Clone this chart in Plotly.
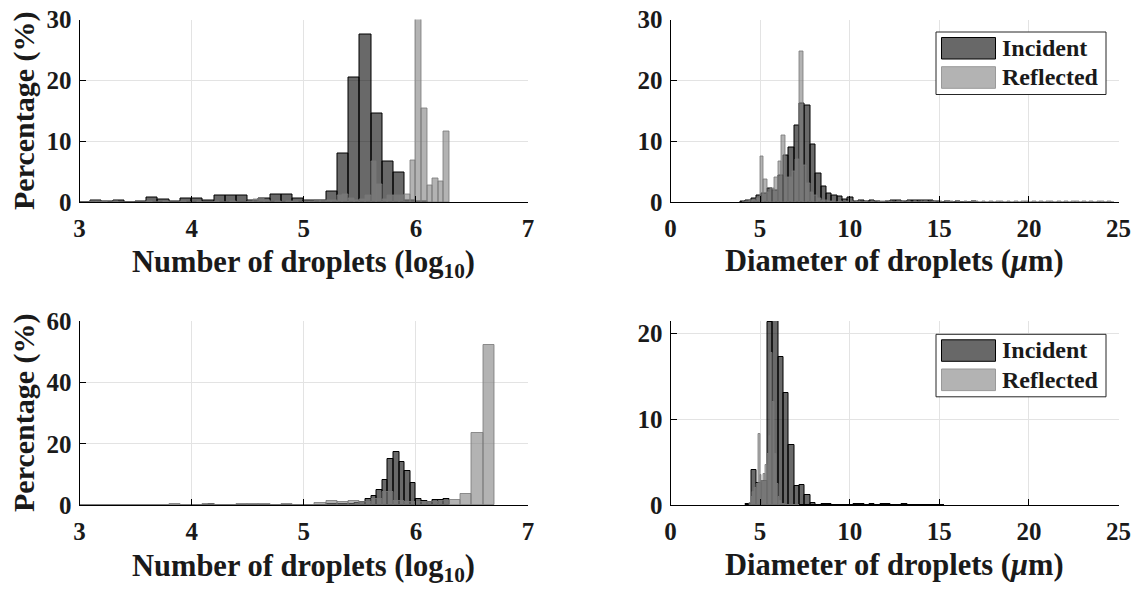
import plotly.graph_objects as go
import numpy as np

# ---------------- data ----------------
# Panel (a): number of droplets (log10), case 1
inc1_start, inc1_bin = 3.0, 0.1
inc1_vals = [0.0, 0.2, 0.05, 0.2, 0.0, 0.1, 0.8, 0.35, 0.15, 0.6, 0.5, 0.3, 1.15, 1.0, 1.0,
             0.3, 0.5, 1.3, 1.25, 0.5, 0.2, 0.3, 1.8, 8.0, 20.5, 27.5, 14.5, 6.6, 4.9, 0.3, 0.1]
ref1_start, ref1_bin = 3.0, 0.05
ref1_vals = [0, 0, 0.1, 0.1, 0.1, 0, 0.1, 0, 0, 0, 0, 0, 0.1, 0, 0, 0.1, 0, 0, 0.1, 0,
             0, 0.1, 0, 0, 0.1, 0, 0, 0.1, 0, 0, 0.1, 0.4, 0.5, 0.2, 0, 0.1, 0, 0.1, 0.1, 0,
             0.1, 0.1, 0.2, 0.3, 0.3, 0.2, 1.0, 1.3, 0.5, 0.3, 0.4, 1.15, 6.6, 2.9, 0.4, 1.0,
             1.0, 1.0, 1.3, 6.8, 30.2, 15.4, 2.7, 3.9, 3.4, 11.6]

# Panel (b): diameter of droplets (um), case 1
inc2_start, inc2_bin = 3.9, 0.3
inc2_vals = [0.1, 0.2, 0.6, 1.0, 1.4, 2.2, 1.9, 4.3, 7.7, 8.9, 12.6, 16.2, 15.8, 9.5, 4.7, 2.5,
             1.4, 1.1, 0.9, 0.35, 0.8, 0.1, 0.2, 0.1, 0.2, 0.1, 0.0, 0.15, 0.2, 0.2, 0.1, 0.2,
             0.2, 0.25, 0.3, 0.2, 0.1, 0.0, 0.05, 0.0, 0.05, 0.0, 0.0, 0.05]
ref2_start, ref2_bin = 4.0, 0.2
ref2_vals = [0.0, 0.1, 0.2, 0.3, 0.6, 7.4, 3.7, 1.5, 2.2, 4.0, 6.7, 10.9, 4.0, 4.0, 5.0, 7.0,
             24.8, 6.0, 3.0, 1.5, 1.0, 0.5, 0.3, 0.2, 0.1, 0.1, 0.0, 0.1, 0.0, 0.05, 0.1, 0.0,
             0.05, 0.0, 0.1, 0.0, 0.05, 0.0, 0.1, 0.05, 0.0, 0.1, 0.0, 0.05, 0.1, 0.0, 0.05,
             0.0, 0.1, 0.0, 0.05, 0.1, 0.0, 0.05, 0.0, 0.1, 0.0, 0.05, 0.1, 0.0, 0.05, 0.0,
             0.1, 0.0, 0.05, 0.1, 0.0, 0.05, 0.0, 0.1, 0.0, 0.05, 0.1, 0.0, 0.05, 0.0, 0.1,
             0.0, 0.05, 0.1, 0.0, 0.05, 0.0, 0.1, 0.0, 0.05, 0.1, 0.0, 0.05, 0.0, 0.1, 0.0,
             0.05, 0.1, 0.0, 0.05, 0.0, 0.1, 0.0, 0.05, 0.1, 0.0, 0.05, 0.0]

# Panel (c): number of droplets (log10), case 2
inc3_start, inc3_bin = 4.0, 0.05
inc3_vals = [0, 0, 0.1, 0.3, 0.1, 0, 0, 0, 0.1, 0, 0, 0, 0, 0.1, 0, 0, 0.1, 0, 0, 0.1,
             0.1, 0, 0.1, 0.2, 0.3, 0.4, 0.3, 0.4, 0.5, 0.7, 1.2, 2.0, 2.9, 5.0, 8.2, 15.1,
             17.3, 14.1, 11.2, 7.4, 1.9, 1.4, 1.2, 1.6, 1.7, 1.9]
ref3_start, ref3_bin = 3.0, 0.1
ref3_vals = [0.2, 0, 0.1, 0.2, 0, 0.1, 0.2, 0, 0.3, 0.2, 0.2, 0.3, 0.2, 0.2, 0.3, 0.3, 0.3,
             0.2, 0.3, 0.2, 0.2, 0.8, 1.3, 1.1, 1.4, 1.0, 2.0, 4.4, 1.5, 1.2, 1.0, 1.2, 1.5,
             1.7, 3.6, 23.6, 52.1]

# Panel (d): diameter of droplets (um), case 2
inc4_start, inc4_bin = 4.2, 0.3
inc4_vals = [0.2, 4.1, 2.6, 2.8, 21.3, 21.4, 17.2, 13.0, 7.0, 2.2, 2.3, 1.2, 0.3, 0.0, 0.1,
             0.1, 0.0, 0.0, 0.0, 0.0, 0.1, 0.1, 0.0, 0.1, 0.0, 0.15, 0.1, 0.0, 0.05, 0.1, 0.0,
             0.05, 0.0, 0.05, 0.0, 0.0, 0.05]
ref4_start, ref4_bin = 4.4, 0.1
ref4_vals = [0.3, 1.0, 1.5, 2.0, 2.5, 8.3, 3.5, 2.8, 3.6, 4.7, 6.0, 8.0, 17.7, 12.0, 6.0, 2.5,
             1.0, 0.5, 0.2, 0.1, 0.05, 0.0, 0.05, 0.0, 0.0, 0.05, 0.0, 0.05]

x_ticks_log = [3, 4, 5, 6, 7]
x_ticks_dia = [0, 5, 10, 15, 20, 25]
legend_labels = ["Incident", "Reflected"]

# ---------------- styling ----------------
W, H = 1137, 590
FONT = "Liberation Serif"
TXT = "#1a1a1a"
INC_FILL = "rgba(0,0,0,0.59)"
INC_LINE = "#000000"
REF_FILL = "rgba(128,128,128,0.6)"
REF_LINE = "rgba(120,120,120,0.8)"


def centers(start, width, n):
    return start + width * (np.arange(n) + 0.5)


fig = go.Figure()

panels = [
    ("x", "y", inc1_start, inc1_bin, inc1_vals, ref1_start, ref1_bin, ref1_vals),
    ("x2", "y2", inc2_start, inc2_bin, inc2_vals, ref2_start, ref2_bin, ref2_vals),
    ("x3", "y3", inc3_start, inc3_bin, inc3_vals, ref3_start, ref3_bin, ref3_vals),
    ("x4", "y4", inc4_start, inc4_bin, inc4_vals, ref4_start, ref4_bin, ref4_vals),
]
for xa, ya, i0, iw, iv, r0, rw, rv in panels:
    fig.add_trace(go.Bar(x=centers(i0, iw, len(iv)), y=iv, width=iw, xaxis=xa, yaxis=ya,
                         marker=dict(color=INC_FILL, line=dict(color=INC_LINE, width=1)),
                         showlegend=False, name=legend_labels[0]))
    fig.add_trace(go.Bar(x=centers(r0, rw, len(rv)), y=rv, width=rw, xaxis=xa, yaxis=ya,
                         marker=dict(color=REF_FILL, line=dict(color=REF_LINE, width=1)),
                         showlegend=False, name=legend_labels[1]))

L_dom = [79.5 / W, 528 / W]
R_dom = [670.5 / W, 1118.5 / W]
T_dom = [1 - 202 / H, 1 - 19.5 / H]
B_dom = [1 - 505.3 / H, 1 - 321 / H]

axis_common = dict(showline=True, linecolor="black", linewidth=1, ticks="inside", ticklen=6,
                   tickcolor="black", tickwidth=1, showgrid=True, gridcolor="#e3e3e3",
                   gridwidth=1, zeroline=False, mirror=False, automargin=False,
                   tickfont=dict(family=FONT, size=25, color=TXT, weight="bold"))
xax = dict(ticklabelstandoff=4, **axis_common)
yax = dict(ticklabelstandoff=2, **axis_common)

fig.update_layout(
    width=W, height=H, margin=dict(l=0, r=0, t=0, b=0),
    paper_bgcolor="white", plot_bgcolor="white", barmode="overlay", bargap=0,
    xaxis=dict(domain=L_dom, anchor="y", range=[3, 7], tickvals=x_ticks_log, **xax),
    yaxis=dict(domain=T_dom, anchor="x", range=[0, 30], tickvals=[0, 10, 20, 30], **yax),
    xaxis2=dict(domain=R_dom, anchor="y2", range=[0, 25], tickvals=x_ticks_dia, **xax),
    yaxis2=dict(domain=T_dom, anchor="x2", range=[0, 30], tickvals=[0, 10, 20, 30], **yax),
    xaxis3=dict(domain=L_dom, anchor="y3", range=[3, 7], tickvals=x_ticks_log, **xax),
    yaxis3=dict(domain=B_dom, anchor="x3", range=[0, 60], tickvals=[0, 20, 40, 60], **yax),
    xaxis4=dict(domain=R_dom, anchor="y4", range=[0, 25], tickvals=x_ticks_dia, **xax),
    yaxis4=dict(domain=B_dom, anchor="x4", range=[0, 21.4], tickvals=[0, 10, 20], **yax),
)

annos = []
shapes = []


def add_text(text, xpx, ypx, size, xanchor="center", yanchor="middle", angle=0):
    annos.append(dict(text=text, x=xpx / W, y=1 - ypx / H, xref="paper", yref="paper",
                      xanchor=xanchor, yanchor=yanchor, textangle=angle, showarrow=False,
                      font=dict(family=FONT, size=size, color=TXT, weight="bold")))


# axis titles
for yc in (111, 413):
    add_text("Percentage (%)", 24, yc, 30, angle=-90)
add_text("Number of droplets (log<sub>10</sub>)", 303.75, 264, 30.5)
add_text("Number of droplets (log<sub>10</sub>)", 303.75, 568, 30.5)
add_text("Diameter of droplets (<i>μ</i>m)", 894.5, 260.5, 30.5)
add_text("Diameter of droplets (<i>μ</i>m)", 894.5, 564.5, 30.5)


def rect(x0, y0, x1, y1, fill, line):
    shapes.append(dict(type="rect", xref="paper", yref="paper", x0=x0 / W, x1=x1 / W,
                       y0=1 - y1 / H, y1=1 - y0 / H, fillcolor=fill,
                       line=dict(color=line, width=1), layer="above"))


# legends (top-right and bottom-right panels)
for by in (32, 334.3):
    rect(936, by, 1106, by + 62.5, "white", "#262626")
    rect(941.5, by + 5.5, 995.5, by + 27, "#686868", "#000000")
    rect(941.5, by + 34.7, 995.5, by + 56.3, "#b3b3b3", "#999999")
    add_text(legend_labels[0], 1000, by + 16, 24, xanchor="left")
    add_text(legend_labels[1], 1000, by + 45.5, 24, xanchor="left")

fig.update_layout(annotations=annos, shapes=shapes)
fig.write_html("out.html")
